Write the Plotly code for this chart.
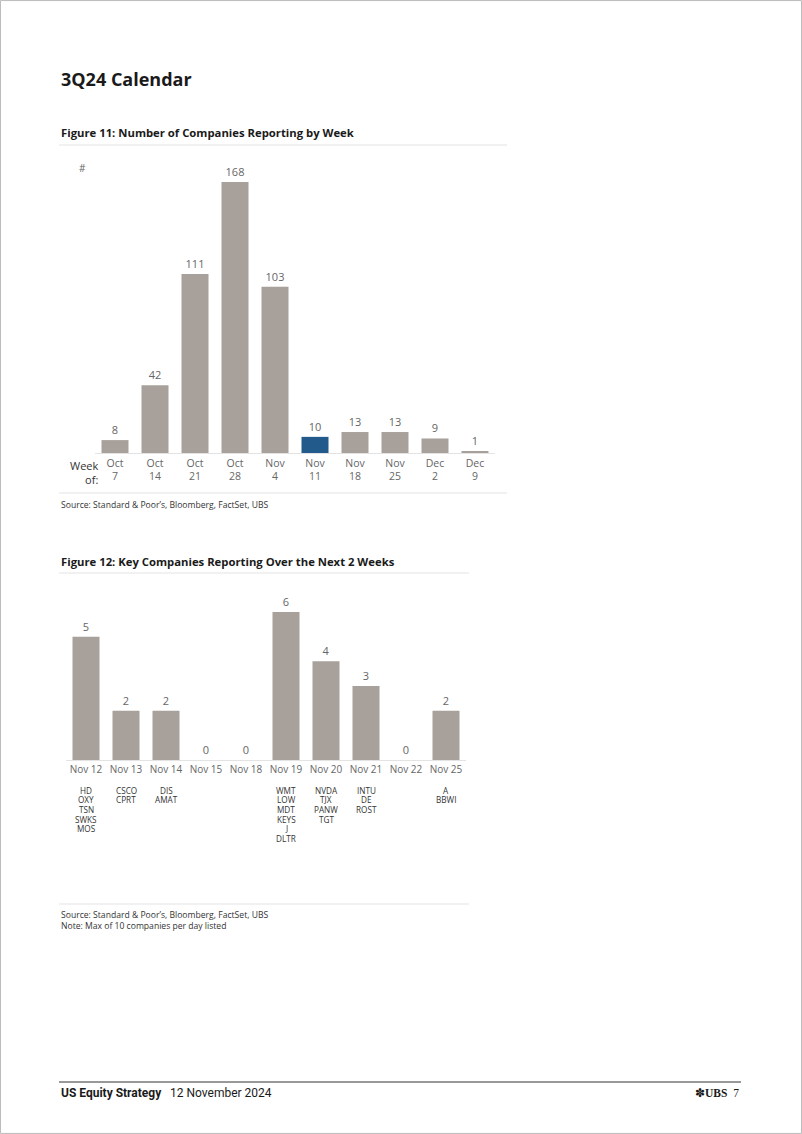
import plotly.graph_objects as go

W, H = 802, 1134

# ---- Data ----
weeks_top = ["Oct", "Oct", "Oct", "Oct", "Nov", "Nov", "Nov", "Nov", "Dec", "Dec"]
weeks_bot = ["7", "14", "21", "28", "4", "11", "18", "25", "2", "9"]
week_counts = [8, 42, 111, 168, 103, 10, 13, 13, 9, 1]
highlight_week = "Nov 11"

days = ["Nov 12", "Nov 13", "Nov 14", "Nov 15", "Nov 18", "Nov 19", "Nov 20", "Nov 21", "Nov 22", "Nov 25"]
day_counts = [5, 2, 2, 0, 0, 6, 4, 3, 0, 2]
day_companies = [
    ["HD", "OXY", "TSN", "SWKS", "MOS"],
    ["CSCO", "CPRT"],
    ["DIS", "AMAT"],
    [],
    [],
    ["WMT", "LOW", "MDT", "KEYS", "J", "DLTR"],
    ["NVDA", "TJX", "PANW", "TGT"],
    ["INTU", "DE", "ROST"],
    [],
    ["A", "BBWI"],
]

GREY = "#a8a09a"
BLUE = "#235a8c"
TXT = "#666666"
DARK = "#1a1a1a"
RULE = "#e3e3e3"
FONT = "Open Sans"


def px(x):
    return x / W


def py(y):
    return 1 - y / H


week_labels = [f"{a} {b}" for a, b in zip(weeks_top, weeks_bot)]
week_tick = [f"{a}<br>{b}" for a, b in zip(weeks_top, weeks_bot)]
colors1 = [BLUE if w == highlight_week else GREY for w in week_labels]

fig = go.Figure()
fig.add_trace(go.Bar(
    x=week_labels, y=week_counts, marker_color=colors1, marker_line_width=0,
    text=[str(v) for v in week_counts], textposition="outside", cliponaxis=False,
    textfont=dict(size=11, color=TXT, family=FONT), xaxis="x", yaxis="y",
    showlegend=False, hoverinfo="x+y",
))
fig.add_trace(go.Bar(
    x=days, y=day_counts, marker_color=GREY, marker_line_width=0,
    text=[str(v) for v in day_counts], textposition="outside", cliponaxis=False,
    textfont=dict(size=11, color=TXT, family=FONT), xaxis="x2", yaxis="y2",
    showlegend=False, hoverinfo="x+y",
))

# chart geometry (page pixels)
base1, top1 = 453, 160
scale1 = (453 - 182) / 168.0
base2, top2 = 760, 590
scale2 = (760 - 612) / 6.0

fig.update_layout(
    width=W, height=H, margin=dict(l=0, r=0, t=0, b=0),
    paper_bgcolor="white", plot_bgcolor="white",
    bargap=0.325,
    font=dict(family=FONT, color=TXT),
    xaxis=dict(domain=[px(95), px(495)], anchor="y", type="category",
               tickvals=week_labels, ticktext=week_tick, range=[-0.5, 9.5],
               showline=True, linecolor=RULE, linewidth=1, ticks="",
               showgrid=False, tickfont=dict(size=10.5, color=TXT, family=FONT)),
    yaxis=dict(domain=[py(base1), py(top1)], anchor="x",
               range=[0, (base1 - top1) / scale1], visible=False, showgrid=False),
    xaxis2=dict(domain=[px(66), px(466)], anchor="y2", type="category",
                range=[-0.5, 9.5], showline=True, linecolor=RULE, linewidth=1,
                ticks="", showgrid=False,
                tickfont=dict(size=10, color=TXT, family=FONT)),
    yaxis2=dict(domain=[py(base2), py(top2)], anchor="x2",
                range=[0, (base2 - top2) / scale2], visible=False, showgrid=False),
)

ann = []


def text(x, y, s, size, color=DARK, xanchor="left", yanchor="middle", align="left", family=FONT):
    ann.append(dict(x=px(x), y=py(y), xref="paper", yref="paper", text=s,
                    showarrow=False, xanchor=xanchor, yanchor=yanchor, align=align,
                    font=dict(size=size, color=color, family=family)))


text(59, 79, "<b>3Q24 Calendar</b>", 18, DARK)
text(59, 133, "<b>Figure 11: Number of Companies Reporting by Week</b>", 11.3, DARK)
text(77, 168, "#", 10, TXT)
text(101, 473, "Week<br>of:", 11, "#333333", xanchor="right", align="right")
text(59, 505, "Source: Standard &amp; Poor’s, Bloomberg, FactSet, UBS", 8.6, "#333333")

text(59, 562, "<b>Figure 12: Key Companies Reporting Over the Next 2 Weeks</b>", 11.3, DARK)
for d, comps in zip(days, day_companies):
    for i, c in enumerate(comps):
        ann.append(dict(x=d, y=py(790 + 9.7 * i), xref="x2", yref="paper", text=c,
                        showarrow=False, xanchor="center", yanchor="middle",
                        font=dict(size=8.2, color="#333333", family=FONT)))
text(59, 915, "Source: Standard &amp; Poor’s, Bloomberg, FactSet, UBS", 8.6, "#333333")
text(59, 926, "Note: Max of 10 companies per day listed", 8.6, "#333333")

text(59, 1093, "<b>US Equity Strategy</b>", 12, DARK, family="Liberation Sans Narrow, Roboto")
text(168, 1093, "12 November 2024", 12, DARK, family="Liberation Sans Narrow, Roboto")
text(741, 1093, "✽<b>UBS</b>  7", 11.5, DARK, xanchor="right",
     family="Liberation Serif, DejaVu Serif")

fig.update_layout(annotations=ann)

shapes = []


def hline(x0, x1, y, color=RULE, width=1):
    shapes.append(dict(type="line", xref="paper", yref="paper", x0=px(x0), x1=px(x1),
                       y0=py(y), y1=py(y), line=dict(color=color, width=width)))


hline(59, 507, 145)
hline(59, 507, 493)
hline(59, 469, 573)
hline(59, 469, 904)
hline(59, 741, 1082, color="#333333", width=1)
shapes.append(dict(type="rect", xref="paper", yref="paper", x0=0.0006, x1=0.9994, y0=0.0005, y1=0.9995,
                   line=dict(color="#bbbbbb", width=1)))
fig.update_layout(shapes=shapes)

fig.write_html("out.html", config={"displayModeBar": False},
               post_script="document.body.style.margin='0';document.body.style.overflow='hidden';")
